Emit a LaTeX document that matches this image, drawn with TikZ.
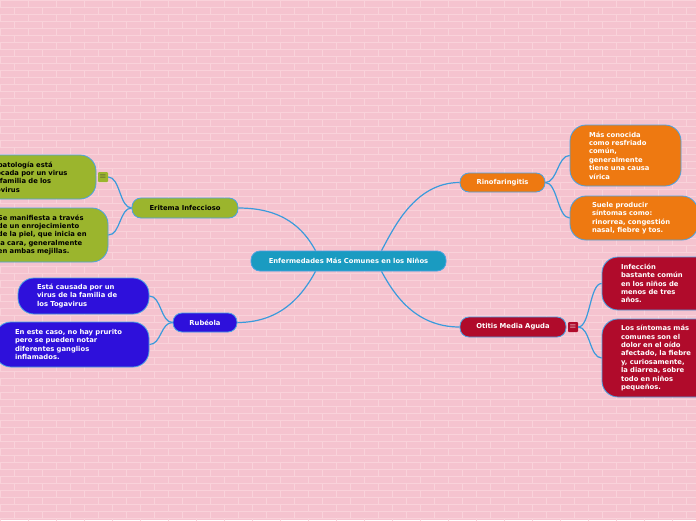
\documentclass[tikz,border=0pt]{standalone}
\usepackage{fontspec}
\setmainfont{DejaVu Sans}
\usetikzlibrary{positioning,calc}
\definecolor{rosewall}{HTML}{F5C3CF}
\definecolor{mortar}{HTML}{F9D2DA}
\definecolor{wire}{HTML}{3A9BDC}
\definecolor{rim}{HTML}{4AA3E3}
\definecolor{hubblue}{HTML}{1A9BC1}
\definecolor{olivebox}{HTML}{9BB52D}
\definecolor{rubviolet}{HTML}{2E10DB}
\definecolor{rinoorange}{HTML}{EE7911}
\definecolor{otitisred}{HTML}{B00B2B}

\begin{document}
\begin{tikzpicture}[
      x=1pt,y=-1pt,
      txt/.style={font=\bfseries\fontsize{6.8}{8.4}\selectfont},
      hub/.style={txt,draw=rim,line width=0.8pt,rounded corners=9pt,minimum height=20pt,inner xsep=2pt,fill=hubblue,text=white},
      branch/.style={txt,draw=rim,line width=0.8pt,rounded corners=9pt,minimum height=20pt,inner xsep=2pt,text=white},
      leaf/.style={txt,draw=rim,line width=0.8pt,rounded corners=16pt,align=left,inner sep=2pt,text=white},
      note/.style={rounded corners=1pt,minimum size=10pt,inner sep=0pt,font=\fontsize{8}{8}\selectfont},
      link/.style={wire,line width=1.2pt}]
      \useasboundingbox (0,0) rectangle (696,520);
      \clip (0,0) rectangle (696,520);
      % brick wall
      \fill[rosewall] (0,0) rectangle (696,520);
      \foreach \row in {0,...,74} {
        \draw[mortar,line width=0.8pt] (0,\row*7) -- (696,\row*7);
        \foreach \col in {0,...,25}
          \draw[mortar,line width=0.8pt] ({\col*28+mod(\row,2)*14},\row*7) -- ++(0,7);
      }
      % topics
      \node[hub,minimum width=195pt] (root) at (348.5,261) {Enfermedades Más Comunes en los Niños};
      \node[branch,fill=olivebox,text=black,minimum width=106pt] (eritema) at (185,208) {Eritema Infeccioso};
      \node[branch,fill=rubviolet,minimum width=64pt,minimum height=19pt] (rubeola) at (205,322.5) {Rubéola};
      \node[branch,fill=rinoorange,minimum width=85pt,minimum height=19pt] (rino) at (502.5,182.5) {Rinofaringitis};
      \node[branch,fill=otitisred,minimum width=106pt] (otitis) at (513,327) {Otitis Media Aguda};
      % details
      \node[leaf,fill=olivebox,text=black,minimum width=138pt,minimum height=44pt,text width=96pt] (eritemaA) at (27,177) {Esta patología está\\provocada por un virus\\de la familia de los\\Parvovirus};
      \node[leaf,fill=olivebox,text=black,minimum width=128pt,minimum height=54pt,text width=92pt] (eritemaB) at (44,235) {Se manifiesta a través\\de un enrojecimiento\\de la piel, que inicia en\\la cara, generalmente\\en ambas mejillas.};
      \node[leaf,fill=rubviolet,minimum width=131pt,minimum height=36pt,text width=93pt] (rubeolaA) at (83.5,296) {Está causada por un\\virus de la familia de\\los Togavirus};
      \node[leaf,fill=rubviolet,minimum width=154pt,minimum height=45pt,text width=114pt] (rubeolaB) at (72,344.5) {En este caso, no hay prurito\\pero se pueden notar\\diferentes ganglios\\inflamados.};
      \node[leaf,fill=rinoorange,minimum width=111pt,minimum height=61pt,text width=73pt] (rinoA) at (625.5,155.5) {Más conocida\\como resfriado\\común,\\generalmente\\tiene una causa\\vírica};
      \node[leaf,fill=rinoorange,minimum width=128pt,minimum height=44pt,text width=84pt] (rinoB) at (634,218) {Suele producir\\síntomas como:\\rinorrea, congestión\\nasal, fiebre y tos.};
      \node[leaf,fill=otitisred,minimum width=110pt,minimum height=53pt,text width=72pt] (otitisA) at (657,283.5) {Infección\\bastante común\\en los niños de\\menos de tres\\años.};
      \node[leaf,fill=otitisred,minimum width=120pt,minimum height=78pt,text width=82pt] (otitisB) at (662,358) {Los síntomas más\\comunes son el\\dolor en el oído\\afectado, la fiebre\\y, curiosamente,\\la diarrea, sobre\\todo en niños\\pequeños.};
      % note markers
      \node[note,fill=olivebox,text=black!75] (eritemaNote) at (103,177) {$\equiv$};
      \node[note,fill=otitisred,text=white] (otitisNote) at (573,327) {$\equiv$};
      % links
      \draw[link] (eritema.east) .. controls +(45,0) and +(-12,-22) .. ($(root.north)+(-33,0)$);
      \draw[link] (rubeola.east) .. controls +(45,0) and +(-12,22) .. ($(root.south)+(-33,0)$);
      \draw[link] (rino.west) .. controls +(-45,0) and +(12,-22) .. ($(root.north)+(33,0)$);
      \draw[link] (otitis.west) .. controls +(-45,0) and +(12,22) .. ($(root.south)+(33,0)$);
      \draw[link] (eritema.west) .. controls +(-12,0) and +(12,0) .. (eritemaNote.east);
      \draw[link] (eritema.west) .. controls +(-12,0) and +(12,0) .. (eritemaB.east);
      \draw[link] (rubeola.west) .. controls +(-12,0) and +(12,0) .. (rubeolaA.east);
      \draw[link] (rubeola.west) .. controls +(-12,0) and +(12,0) .. (rubeolaB.east);
      \draw[link] (rino.east) .. controls +(12,0) and +(-12,0) .. (rinoA.west);
      \draw[link] (rino.east) .. controls +(12,0) and +(-12,0) .. (rinoB.west);
      \draw[link] (otitisNote.east) .. controls +(12,0) and +(-12,0) .. (otitisA.west);
      \draw[link] (otitisNote.east) .. controls +(12,0) and +(-12,0) .. (otitisB.west);
    \end{tikzpicture}
\end{document}
